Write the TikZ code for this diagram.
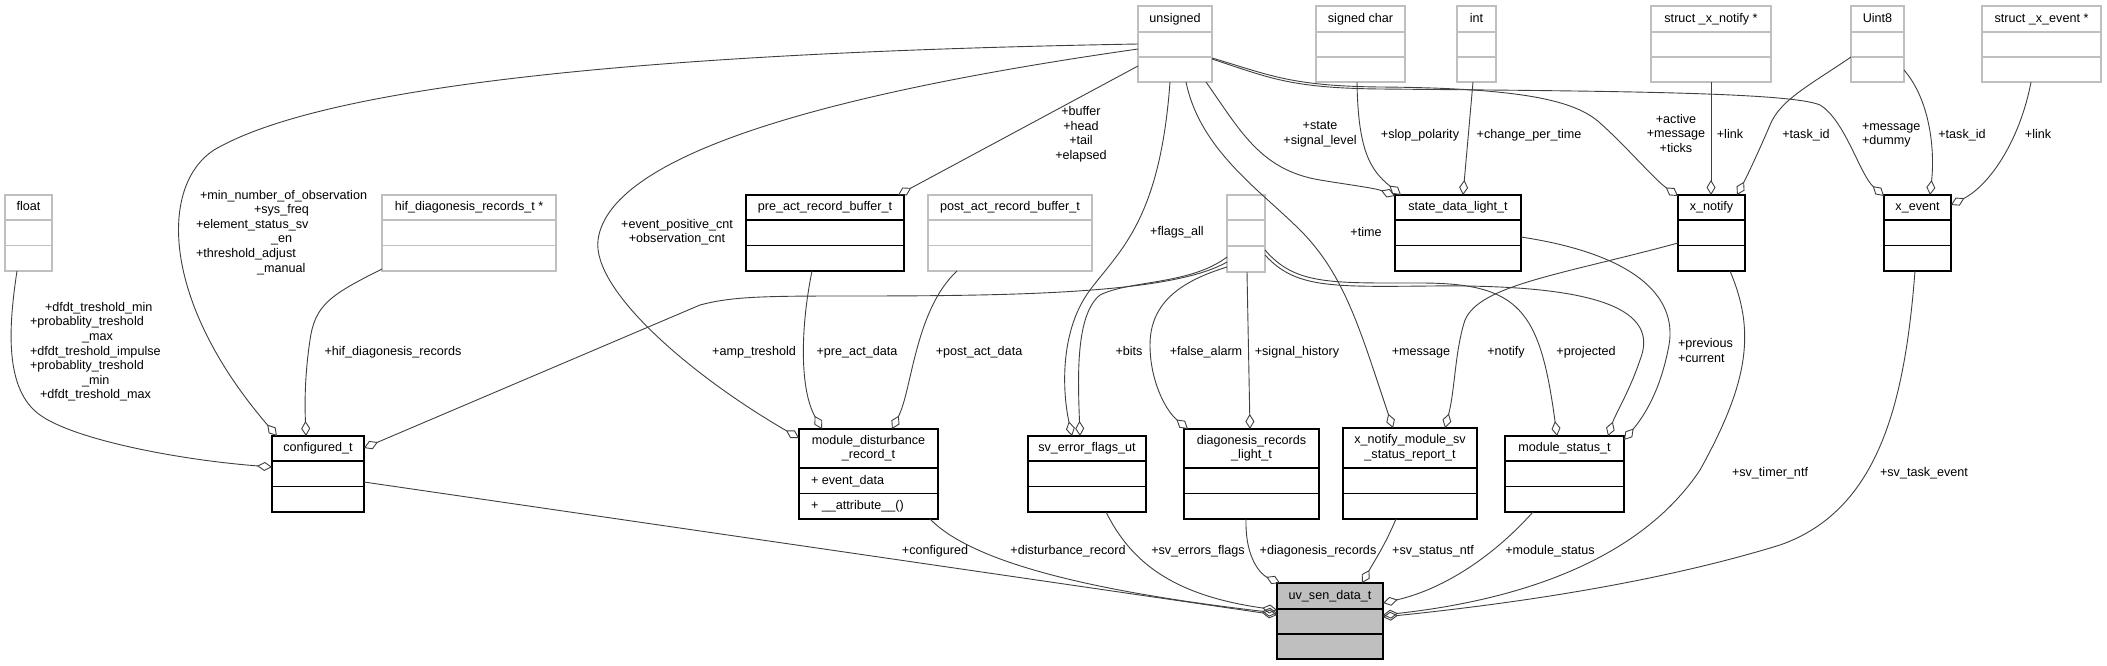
\documentclass[tikz,border=0pt]{standalone}
\usepackage{fontspec}
\setmainfont{Liberation Sans}
\usetikzlibrary{arrows.meta}
\definecolor{gbord}{HTML}{BFBFBF}
\definecolor{edgec}{HTML}{404040}
\definecolor{uvfill}{HTML}{BFBFBF}
\newcommand{\lblf}{\fontsize{12.6}{14.6}\selectfont}
\newcommand{\stl}{\rule[-2.9pt]{0pt}{12.2pt}}
\newcommand{\cls}[8]{%
  \node[#7, minimum width=#4pt, minimum height=#5pt, anchor=north west] (#1) at (#2,#3) {};
  \node[el] (#1-title) at ([yshift=-#6pt/2]#1.north) {#8};
  \draw[#7 div] ([yshift=-#6pt]#1.north west) -- ([yshift=-#6pt]#1.north east);
  \draw[#7 div] ([yshift={(#5pt-#6pt)/2}]#1.south west) -- ([yshift={(#5pt-#6pt)/2}]#1.south east);
}
\begin{document}
\begin{tikzpicture}[x=1pt, y=-1pt,
  bk/.style={draw=black, line width=1.2pt, fill=white, inner sep=0pt, outer sep=0pt},
  gy/.style={draw=gbord, line width=1.3pt, fill=white, inner sep=0pt, outer sep=0pt},
  uvs/.style={draw=black, line width=1.2pt, fill=uvfill, inner sep=0pt, outer sep=0pt},
  bk div/.style={draw=black, line width=1.2pt},
  gy div/.style={draw=gbord, line width=1.3pt},
  uvs div/.style={draw=black, line width=1.2pt},
  edge/.style={draw=edgec, line width=0.9pt, -{Diamond[open, length=15pt, width=9pt]}},
  el/.style={font=\lblf, inner sep=0pt, outer sep=0pt, align=center,
             execute at begin node={\stl}, execute at end node={\stl}},
  ell/.style={el, align=left, anchor=west}
]
\fill[white] (0,0) rectangle (2107,665);
\useasboundingbox (0,0) rectangle (2107,665);

% ---------- classes ----------
\cls{unsigned}{1138}{6}{74}{76}{26}{gy}{unsigned}
\cls{signedchar}{1316}{6}{89}{76}{26}{gy}{signed char}
\cls{int}{1457}{6}{39}{76}{26}{gy}{int}
\cls{xnotifyptr}{1651}{6}{120}{76}{26}{gy}{struct \_x\_notify *}
\cls{uint8}{1851}{6}{53}{76}{26}{gy}{Uint8}
\cls{xeventptr}{1982}{6}{119}{76}{26}{gy}{struct \_x\_event *}
\cls{float}{5}{195}{47}{76}{25}{gy}{float}
\cls{hifptr}{382}{195}{174}{76}{25}{gy}{hif\_diagonesis\_records\_t *}
\cls{preact}{746}{195}{158}{76}{25}{bk}{pre\_act\_record\_buffer\_t}
\cls{postact}{928}{195}{164}{76}{25}{gy}{post\_act\_record\_buffer\_t}
\cls{anon}{1227}{195}{38}{77}{25}{gy}{}
\cls{statedata}{1395}{195}{126}{76}{25}{bk}{state\_data\_light\_t}
\cls{xnotify}{1678}{195}{67}{76}{25}{bk}{x\_notify}
\cls{xevent}{1884}{195}{67}{76}{25}{bk}{x\_event}
\cls{configured}{272}{436}{92}{76}{25}{bk}{configured\_t}
\cls{modist}{799}{429}{139}{90}{39}{bk}{module\_disturbance\\\_record\_t}
\cls{sverr}{1028}{436}{118}{76}{25}{bk}{sv\_error\_flags\_ut}
\cls{diag}{1184}{429}{135}{90}{39}{bk}{diagonesis\_records\\\_light\_t}
\cls{xnms}{1343}{428}{134}{91}{40}{bk}{x\_notify\_module\_sv\\\_status\_report\_t}
\cls{modstat}{1505}{436}{119}{76}{25}{bk}{module\_status\_t}
\cls{uv}{1277}{583}{106}{76}{26}{uvs}{uv\_sen\_data\_t}
\node[el, anchor=west] (modist-attr) at ([xshift=12pt, yshift=-52pt]modist.north west) {+ event\_data};
\node[el, anchor=west] (modist-meth) at ([xshift=12pt, yshift=-77pt]modist.north west) {+ \_\_attribute\_\_()};

% ---------- connectors ----------
\draw[edge] ([xshift=12pt]float.south west) .. controls (8,330) and (5,390) .. (40,415)
  .. controls (75,440) and (180,460) .. ([yshift=-31pt]configured.north west);
\draw[edge] ([yshift=-38pt]unsigned.north west) .. controls (800,50) and (350,70) .. (214,150)
  .. controls (160,185) and (160,300) .. ([xshift=5pt]configured.north west);
\draw[edge] ([yshift=-43pt]unsigned.north west) .. controls (850,90) and (610,150) .. (598,240)
  .. controls (592,290) and (690,375) .. ([yshift=-9pt]modist.north west);
\draw[edge] ([yshift=-60pt]unsigned.north west) -- ([xshift=-6pt]preact.north east);
\draw[edge] ([xshift=32pt]unsigned.south west) .. controls (1160,220) and (1120,250) .. (1090,290)
  .. controls (1060,330) and (1062,390) .. ([xshift=44pt]sverr.north west);
\draw[edge] ([yshift=-62pt]anon.north west) .. controls (1190,285) and (1130,280) .. (1100,295)
  .. controls (1075,315) and (1078,380) .. ([xshift=52pt]sverr.north west);
\draw[edge] ([yshift=-72pt]anon.north west) .. controls (1185,280) and (1150,300) .. (1150,345)
  .. controls (1150,380) and (1165,410) .. ([xshift=4pt]diag.north west);
\draw[edge] ([xshift=20pt]anon.south west) -- ([xshift=66pt]diag.north west);
\draw[edge] ([xshift=48pt]unsigned.south west) .. controls (1200,150) and (1260,190) .. (1300,230)
  .. controls (1345,275) and (1360,330) .. ([xshift=50pt]xnms.north west);
\draw[edge] ([yshift=-55pt]anon.north east) .. controls (1295,285) and (1330,283) .. (1420,283)
  .. controls (1520,283) and (1540,310) .. ([xshift=52pt]modstat.north west);
\draw[edge] ([yshift=-60pt]anon.north east) .. controls (1295,288) and (1330,287) .. (1430,286)
  .. controls (1600,284) and (1660,310) .. (1640,360)
  .. controls (1630,390) and (1615,415) .. ([xshift=103pt]modstat.north west);
\draw[edge] ([yshift=-48pt]xnotify.north west) .. controls (1560,275) and (1480,285) .. (1465,320)
  .. controls (1455,350) and (1455,390) .. ([xshift=102pt]xnms.north west);
\draw[edge] ([yshift=-42pt]statedata.north east) .. controls (1640,255) and (1680,300) .. (1668,350)
  .. controls (1660,390) and (1645,415) .. ([yshift=-4pt]modstat.north east);
\draw[edge] ([yshift=-67pt]anon.north west) .. controls (1170,295) and (1000,296) .. (840,296)
  .. controls (760,296) and (730,297) .. (700,305) -- ([yshift=-12pt]configured.north east);
\draw[edge] ([xshift=66pt]preact.south west) .. controls (800,330) and (800,390) .. ([xshift=23pt]modist.north west);
\draw[edge] ([xshift=29pt]postact.south west) .. controls (915,310) and (912,390) .. ([xshift=93pt]modist.north west);
\draw[edge] ([yshift=2pt]hifptr.south west) .. controls (330,295) and (315,305) .. (310,340)
  .. controls (304,380) and (305,410) .. ([xshift=34pt]configured.north west);
\draw[edge] ([xshift=41pt]signedchar.south west) .. controls (1358,150) and (1370,170) .. ([xshift=6pt]statedata.north west);
\draw[edge] ([xshift=68pt]unsigned.south west) .. controls (1240,130) and (1260,170) .. (1320,180)
  .. controls (1350,185) and (1375,188) .. ([yshift=-1pt]statedata.north west);
\draw[edge] ([xshift=16pt]int.south west) -- ([xshift=68pt]statedata.north west);
\draw[edge] ([yshift=-52pt]unsigned.north east) .. controls (1270,75) and (1290,86) .. (1380,87)
  .. controls (1520,88) and (1575,100) .. (1600,123)
  .. controls (1625,145) and (1655,180) .. ([yshift=-1pt]xnotify.north west);
\draw[edge] ([yshift=-53pt]unsigned.north east) .. controls (1270,78) and (1290,88) .. (1380,89)
  .. controls (1600,91) and (1790,92) .. (1820,105)
  .. controls (1845,120) and (1860,175) .. ([yshift=-1pt]xevent.north west);
\draw[edge] ([xshift=60pt]xnotifyptr.south west) -- ([xshift=33pt]xnotify.north west);
\draw[edge] ([yshift=-51pt]uint8.north west) .. controls (1810,85) and (1780,100) .. (1770,125)
  .. controls (1755,160) and (1745,180) .. ([xshift=-8pt]xnotify.north east);
\draw[edge] ([yshift=-64pt]uint8.north east) .. controls (1930,100) and (1935,150) .. ([xshift=46pt]xevent.north west);
\draw[edge] ([xshift=49pt]xeventptr.south west) .. controls (2020,140) and (1990,185) .. ([yshift=-10pt]xevent.north east);
\draw[edge] ([yshift=-46pt]configured.north east) -- ([yshift=-32pt]uv.north west);
\draw[edge] ([xshift=-8pt]modist.south east) .. controls (970,560) and (1080,590) .. ([yshift=-30pt]uv.north west);
\draw[edge] ([xshift=78pt]sverr.south west) .. controls (1130,560) and (1170,595) .. ([yshift=-27pt]uv.north west);
\draw[edge] ([xshift=62pt]diag.south west) .. controls (1245,560) and (1262,575) .. ([xshift=3pt]uv.north west);
\draw[edge] ([xshift=53pt]xnms.south west) .. controls (1385,545) and (1375,560) .. ([xshift=85pt]uv.north west);
\draw[edge] ([xshift=28pt]modstat.south west) .. controls (1490,560) and (1440,590) .. ([yshift=-20pt]uv.north east);
\draw[edge] ([xshift=-15pt]xnotify.south east) .. controls (1755,330) and (1750,380) .. (1700,470)
  .. controls (1640,560) and (1520,600) .. ([yshift=-32pt]uv.north east);
\draw[edge] ([xshift=31pt]xevent.south west) .. controls (1905,400) and (1880,510) .. (1780,545)
  .. controls (1650,585) and (1500,605) .. ([yshift=-34pt]uv.north east);

% ---------- connector labels ----------
\node[ell] (l-float) at (30,352) {\hspace*{15pt}+dfdt\_treshold\_min\\+probablity\_treshold\\\hspace*{52pt}\_max\\+dfdt\_treshold\_impulse\\+probablity\_treshold\\\hspace*{52pt}\_min\\\hspace*{10pt}+dfdt\_treshold\_max};
\node[ell] (l-minobs) at (196,232.5) {\hspace*{4pt}+min\_number\_of\_observation\\\hspace*{58pt}+sys\_freq\\+element\_status\_sv\\\hspace*{75pt}\_en\\+threshold\_adjust\\\hspace*{61pt}\_manual};
\node[el] (l-hif) at (393,352) {+hif\_diagonesis\_records};
\node[el] (l-evpos) at (677,232.5) {+event\_positive\_cnt\\+observation\_cnt};
\node[el] (l-amp) at (754,352) {+amp\_treshold};
\node[el] (l-pre) at (857,352) {+pre\_act\_data};
\node[el] (l-post) at (979,352) {+post\_act\_data};
\node[el] (l-buf) at (1081,134.5) {+buffer\\+head\\+tail\\+elapsed};
\node[el] (l-flags) at (1177,232) {+flags\_all};
\node[el] (l-state) at (1320,134.5) {+state\\+signal\_level};
\node[el] (l-time) at (1366,233) {+time};
\node[el] (l-slop) at (1420,135) {+slop\_polarity};
\node[el] (l-cpt) at (1529,135) {+change\_per\_time};
\node[el] (l-active) at (1676,134.5) {+active\\+message\\+ticks};
\node[el] (l-link1) at (1730,135) {+link};
\node[el] (l-task1) at (1806,135) {+task\_id};
\node[ell] (l-msgdum) at (1862,135.5) {+message\\+dummy};
\node[el] (l-task2) at (1962,135) {+task\_id};
\node[el] (l-link2) at (2038,135) {+link};
\node[el] (l-bits) at (1129,352) {+bits};
\node[el] (l-false) at (1206,352) {+false\_alarm};
\node[el] (l-sighist) at (1297,352) {+signal\_history};
\node[el] (l-msg) at (1421,352) {+message};
\node[el] (l-notify) at (1506,352) {+notify};
\node[el] (l-proj) at (1586,352) {+projected};
\node[ell] (l-prev) at (1678,352) {+previous\\+current};
\node[el] (l-timer) at (1770,473) {+sv\_timer\_ntf};
\node[el] (l-task) at (1924,473) {+sv\_task\_event};
\node[el] (l-conf) at (935,551) {+configured};
\node[el] (l-dist) at (1068,551) {+disturbance\_record};
\node[el] (l-sverr) at (1198,551) {+sv\_errors\_flags};
\node[el] (l-diag) at (1318,551) {+diagonesis\_records};
\node[el] (l-ntf) at (1433,551) {+sv\_status\_ntf};
\node[el] (l-mod) at (1550,551) {+module\_status};
\end{tikzpicture}
\end{document}
